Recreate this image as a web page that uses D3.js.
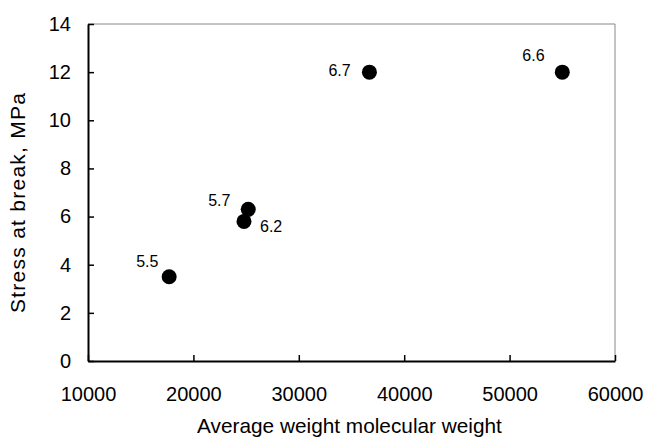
<!DOCTYPE html>
<html>
<head>
<meta charset="utf-8">
<script src="https://cdn.jsdelivr.net/npm/d3@7"></script>
<style>
  body { margin: 0; background: #fff; }
  svg { display: block; font-family: "Liberation Sans", Arial, sans-serif; }
  .tick text { font-size: 20px; fill: #000; }
</style>
</head>
<body>
<div id="chart"></div>
<script>
// values
var molWeight = [17700, 25200, 24800, 36700, 55000];
var stress = [3.5, 6.3, 5.8, 12, 12];
var pointLabels = ["5.5", "5.7", "6.2", "6.7", "6.6"];
var xTicks = [10000, 20000, 30000, 40000, 50000, 60000];
var yTicks = [0, 2, 4, 6, 8, 10, 12, 14];

// where each label sits relative to its dot (px)
var labelOffsets = [[-33, -10], [-40, -3], [16, 11], [-41, 4], [-40, -11]];

var width = 647, height = 438;
var margins = { top: 24, right: 32, bottom: 77, left: 88 };
var chartWidth = width - margins.left - margins.right;
var chartHeight = height - margins.top - margins.bottom;

var svg = d3.select("#chart").append("svg")
  .attr("width", width)
  .attr("height", height);

var g = svg.append("g")
  .attr("transform", "translate(" + margins.left + "," + margins.top + ")");

var xScale = d3.scaleLinear().domain([10000, 60000]).range([0, chartWidth]);
var yScale = d3.scaleLinear().domain([0, 14]).range([chartHeight, 0]);

// thin gray frame on top and right
g.append("path")
  .attr("d", "M0,0H" + chartWidth + "V" + chartHeight)
  .attr("fill", "none")
  .attr("stroke", "#888")
  .attr("stroke-width", 1);

var xAxis = g.append("g")
  .attr("transform", "translate(0," + chartHeight + ")")
  .call(d3.axisBottom(xScale).tickValues(xTicks).tickSize(-6).tickPadding(26).tickSizeOuter(0).tickFormat(d3.format("d")));

var yAxis = g.append("g")
  .call(d3.axisLeft(yScale).tickValues(yTicks).tickSize(-6).tickPadding(17).tickSizeOuter(0));

[xAxis, yAxis].forEach(function(a) {
  a.select(".domain").attr("stroke", "#000").attr("stroke-width", 2);
  a.selectAll(".tick line").attr("stroke", "#000").attr("stroke-width", 1.5);
  a.selectAll(".tick text").style("font-family", "'Liberation Sans', Arial, sans-serif");
});

var points = molWeight.map(function(d, i) {
  return { x: d, y: stress[i], label: pointLabels[i], off: labelOffsets[i] };
});

g.selectAll(".dot")
  .data(points)
  .join("circle")
  .attr("class", "dot")
  .attr("cx", d => xScale(d.x))
  .attr("cy", d => yScale(d.y))
  .attr("r", 7.5)
  .style("fill", "#000");

g.selectAll(".point-label")
  .data(points)
  .join("text")
  .attr("class", "point-label")
  .attr("x", d => xScale(d.x) + d.off[0])
  .attr("y", d => yScale(d.y) + d.off[1])
  .style("font-size", "16px")
  .style("fill", "#000")
  .text(d => d.label);

svg.append("text")
  .attr("x", margins.left + chartWidth / 2 - 2)
  .attr("y", 433)
  .style("text-anchor", "middle")
  .style("font-size", "20.8px")
  .text("Average weight molecular weight");

svg.append("text")
  .attr("transform", "translate(25,203) rotate(-90)")
  .style("text-anchor", "middle")
  .style("font-size", "21px")
  .attr("textLength", 220)
  .attr("lengthAdjust", "spacing")
  .text("Stress at break, MPa");
</script>
</body>
</html>
